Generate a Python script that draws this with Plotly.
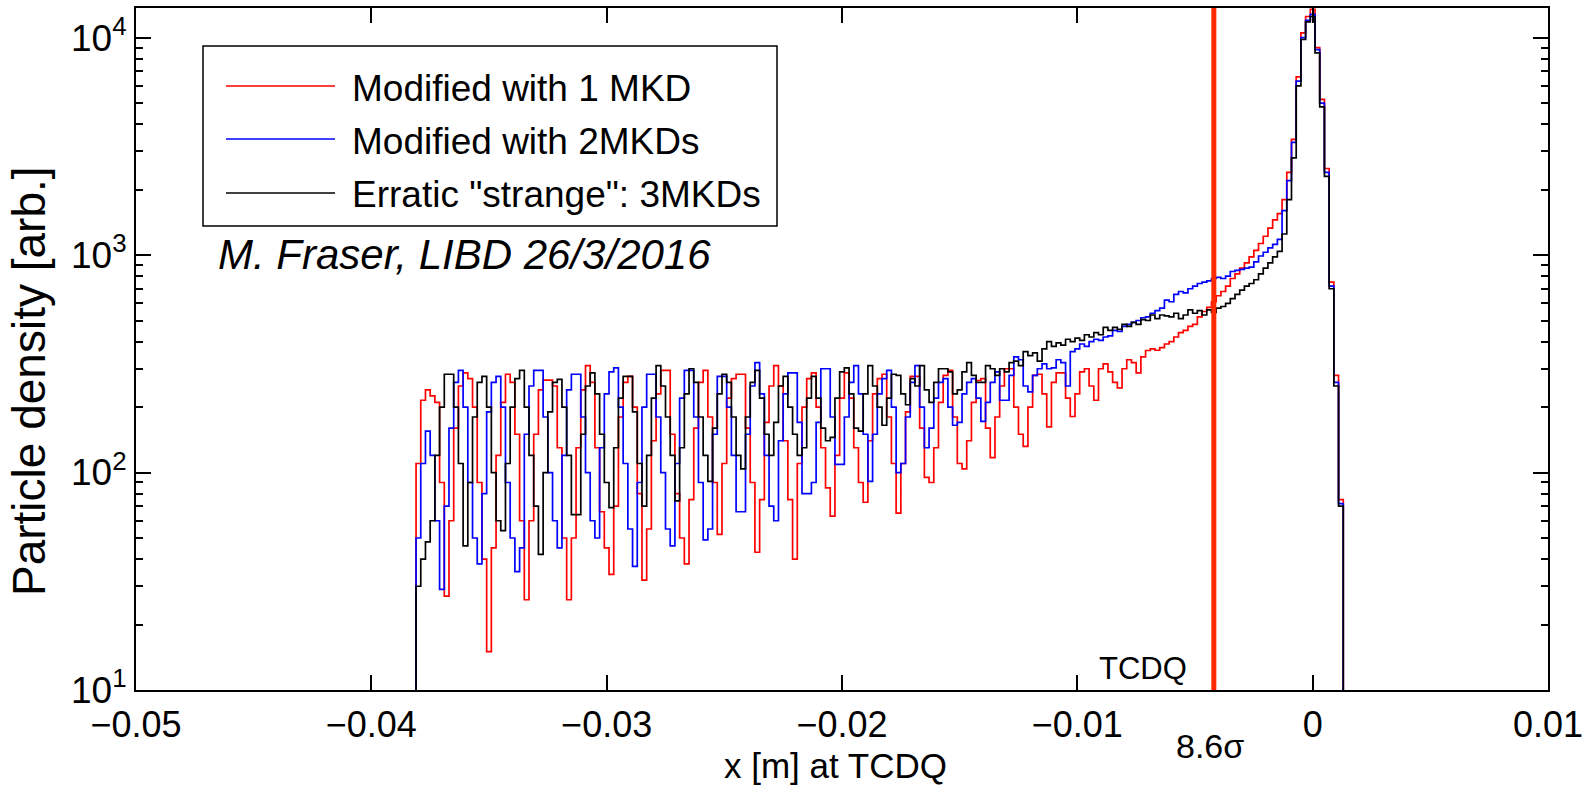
import numpy as np
import plotly.graph_objects as go

# ---------------- data ----------------
bin_start = -0.0381     # left edge of first histogram bin [m]
bin_width = 0.0002      # histogram bin width [m]

red_1mkd = [
    110, 215, 240, 225, 210, 90, 27, 60, 160, 250,
    287, 270, 200, 90, 40, 15, 45, 120, 210, 283,
    260, 150, 60, 26, 60, 150, 240, 266, 266, 250,
    130, 50, 26, 50, 130, 240, 310, 260, 130, 66,
    45, 34, 70, 180, 260, 277, 200, 80, 32, 55,
    140, 230, 295, 295, 150, 80, 50, 38, 75, 160,
    260, 295, 180, 90, 52, 110, 220, 270, 283, 283,
    160, 90, 43, 75, 170, 250, 310, 250, 140, 75,
    40, 110, 200, 270, 287, 200, 130, 85, 63, 120,
    220, 287, 220, 130, 90, 73, 140, 230, 270, 283,
    180, 110, 65, 110, 190, 277, 277, 160, 95, 90,
    130, 210, 280, 295, 180, 110, 104, 140, 210, 265,
    270, 160, 117, 180, 250, 300, 300, 200, 150, 132,
    200, 280, 283, 230, 162, 260, 287, 287, 220, 181,
    230, 290, 300, 250, 215, 300, 316, 290, 260, 245,
    300, 330, 320, 287, 340, 364, 370, 365, 375, 390,
    400, 420, 440, 450, 470, 480, 520, 550, 575, 610,
    650, 680, 720, 780, 820, 870, 920, 980, 1050, 1130,
    1220, 1330, 1450, 1550, 1800, 2400, 3400, 6600, 10500, 12500,
    13500, 9000, 5200, 2500, 750, 280, 75,
]

blue_2mkd = [
    50, 110, 155, 120, 60, 29, 70, 160, 260, 295,
    200, 90, 50, 38, 80, 190, 260, 277, 200, 90,
    50, 35, 45, 150, 250, 295, 295, 180, 100, 60,
    45, 120, 240, 283, 283, 180, 100, 60, 50, 130,
    230, 290, 303, 200, 110, 55, 37, 90, 200, 283,
    283, 180, 100, 55, 46, 110, 220, 295, 295, 180,
    90, 49, 55, 150, 277, 277, 200, 120, 66, 66,
    150, 250, 320, 230, 120, 70, 60, 140, 230, 287,
    287, 170, 80, 80, 90, 170, 300, 300, 180, 109,
    109, 180, 260, 310, 230, 150, 91, 150, 230, 270,
    295, 200, 100, 110, 180, 260, 310, 200, 130, 160,
    220, 260, 270, 200, 165, 170, 230, 260, 270, 220,
    172, 210, 260, 290, 215, 215, 280, 340, 330, 250,
    235, 280, 300, 316, 300, 303, 330, 320, 250, 360,
    370, 390, 380, 400, 410, 405, 420, 425, 450, 445,
    470, 480, 490, 500, 515, 520, 540, 555, 570, 620,
    610, 660, 680, 670, 700, 720, 740, 750, 760, 780,
    790, 780, 800, 840, 850, 860, 870, 880, 930, 990,
    1030, 1080, 1120, 1180, 1600, 2200, 3300, 6300, 10000, 12000,
    12800, 8800, 5000, 2400, 720, 260, 72,
]

black_3mkd = [
    30, 40, 48, 60, 120, 200, 283, 283, 200, 110,
    46, 90, 180, 260, 277, 200, 100, 60, 54, 110,
    200, 270, 295, 200, 120, 70, 42, 100, 190, 260,
    268, 200, 120, 64, 64, 150, 250, 287, 230, 150,
    90, 69, 130, 220, 277, 277, 190, 110, 70, 120,
    220, 310, 250, 180, 120, 74, 130, 230, 300, 260,
    180, 120, 91, 160, 230, 283, 260, 180, 120, 104,
    180, 260, 295, 220, 150, 120, 170, 250, 277, 200,
    150, 120, 130, 220, 277, 220, 160, 140, 145, 220,
    290, 303, 230, 160, 155, 230, 310, 250, 200, 165,
    220, 283, 280, 230, 205, 270, 250, 310, 240, 210,
    260, 300, 300, 290, 230, 240, 290, 320, 280, 260,
    260, 310, 300, 280, 300, 290, 320, 325, 310, 360,
    345, 355, 325, 370, 400, 380, 395, 385, 410, 400,
    415, 405, 430, 420, 440, 430, 465, 450, 465, 455,
    480, 470, 490, 480, 505, 500, 530, 510, 530, 525,
    520, 540, 510, 530, 560, 540, 555, 530, 560, 545,
    570, 580, 600, 630, 660, 690, 720, 740, 770, 820,
    870, 920, 980, 1040, 1250, 1800, 2800, 6000, 9800, 11800,
    12500, 8500, 4800, 2300, 700, 250, 70,
]

series_names = ["Modified with 1 MKD", "Modified with 2MKDs", 'Erratic "strange": 3MKDs']
series_colors = ["#ff0000", "#0000ff", "#000000"]

x_ticks = [-0.05, -0.04, -0.03, -0.02, -0.01, 0.0, 0.01]
x_tick_text = ["\u22120.05", "\u22120.04", "\u22120.03", "\u22120.02", "\u22120.01", "0", "0.01"]
y_ticks = [10, 100, 1000, 10000]
y_tick_text = ["10<sup>1</sup>", "10<sup>2</sup>", "10<sup>3</sup>", "10<sup>4</sup>"]
y_minor = [m * d for d in (10, 100, 1000) for m in range(2, 10)]

tcdq_x = -0.0042      # TCDQ position (8.6 sigma)

# ---------------- figure ----------------
W, H = 1593, 787
L, R, T, B = 136, 45, 8, 97
PW, PH = W - L - R, H - T - B

def px(xp):
    return (xp - L) / PW

def py(yp):
    return (H - B - yp) / PH

FONT = "Liberation Sans, Arial, Helvetica, sans-serif"

fig = go.Figure()

for vals, name, col in zip([red_1mkd, blue_2mkd, black_3mkd], series_names, series_colors):
    n = len(vals)
    edges = np.round(bin_start + bin_width * np.arange(n + 1), 6)
    xs = [edges[0]] + list(edges[:-1]) + [edges[-1], edges[-1]]
    ys = [1] + list(vals) + [vals[-1], 1]
    fig.add_trace(go.Scatter(x=xs, y=ys, mode="lines", name=name,
                             line=dict(color=col, width=1.7, shape="hv"),
                             showlegend=False, hoverinfo="skip"))

fig.update_layout(
    width=W, height=H,
    margin=dict(l=L, r=R, t=T, b=B, autoexpand=False),
    paper_bgcolor="white", plot_bgcolor="white",
    font=dict(family=FONT, color="black"),
    showlegend=False,
)

fig.update_xaxes(
    range=[-0.05, 0.01], tickvals=x_ticks, ticktext=x_tick_text,
    ticks="inside", ticklen=15, tickwidth=1.5, tickcolor="black",
    showline=True, linecolor="black", linewidth=2, mirror="ticks",
    showgrid=False, zeroline=False, automargin=False,
    tickfont=dict(size=36, family=FONT, color="black"),
    ticklabelstandoff=2,
)
fig.update_yaxes(
    type="log", range=[1, 4.136], tickvals=y_ticks, ticktext=y_tick_text,
    ticks="inside", ticklen=15, tickwidth=1.5, tickcolor="black",
    showline=True, linecolor="black", linewidth=2, mirror="ticks",
    showgrid=False, zeroline=False, automargin=False,
    tickfont=dict(size=37, family=FONT, color="black"),
    minor=dict(tickvals=y_minor, ticks="inside", ticklen=7, tickwidth=1.5,
               tickcolor="black", showgrid=False),
)

# TCDQ line
fig.add_shape(type="line", xref="x", yref="paper", x0=tcdq_x, x1=tcdq_x, y0=0, y1=1,
              line=dict(color="#ff2a00", width=5))

# legend (drawn manually to match the boxed style)
fig.add_shape(type="rect", xref="paper", yref="paper",
              x0=px(203), x1=px(777), y0=py(226), y1=py(46),
              line=dict(color="black", width=1.5), fillcolor="white")
for i, (name, col) in enumerate(zip(series_names, series_colors)):
    ly = [86, 139, 193][i]
    fig.add_shape(type="line", xref="paper", yref="paper",
                  x0=px(226), x1=px(335), y0=py(ly), y1=py(ly),
                  line=dict(color=col, width=1.5))
    fig.add_annotation(text=name, xref="paper", yref="paper", x=px(350), y=py(ly + 2),
                       xanchor="left", yanchor="middle", showarrow=False,
                       font=dict(size=37, family=FONT, color="black"))

fig.add_annotation(text="<i>M. Fraser, LIBD 26/3/2016</i>", xref="paper", yref="paper",
                   x=px(216), y=py(254), xanchor="left", yanchor="middle", showarrow=False,
                   font=dict(size=42, family=FONT, color="black"))
fig.add_annotation(text="TCDQ", xref="paper", yref="paper", x=px(1143), y=py(668),
                   xanchor="center", yanchor="middle", showarrow=False,
                   font=dict(size=31, family=FONT, color="black"))
fig.add_annotation(text="8.6\u03c3", xref="paper", yref="paper", x=px(1210), y=py(746),
                   xanchor="center", yanchor="middle", showarrow=False,
                   font=dict(size=34, family=FONT, color="black"))
fig.add_annotation(text="x [m] at TCDQ", xref="paper", yref="paper", x=px(835), y=py(766),
                   xanchor="center", yanchor="middle", showarrow=False,
                   font=dict(size=35, family=FONT, color="black"))
fig.add_annotation(text="Particle density [arb.]", xref="paper", yref="paper", x=px(29), y=py(381),
                   xanchor="center", yanchor="middle", showarrow=False, textangle=-90,
                   font=dict(size=46, family=FONT, color="black"))

fig.write_html("out.html", config={"displayModeBar": False},
               post_script="document.body.style.margin='0';")
